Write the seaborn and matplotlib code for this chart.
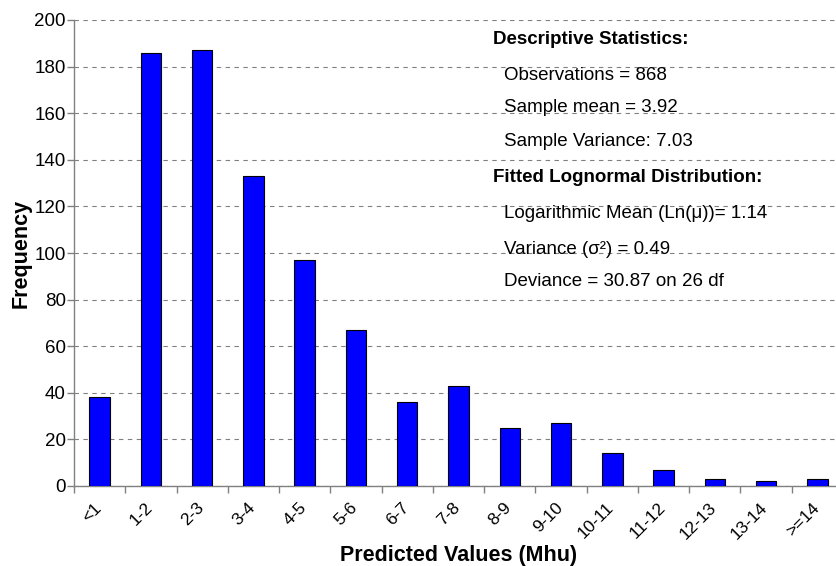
import pandas as pd
import matplotlib.pyplot as plt
import matplotlib.transforms as mtransforms
import seaborn as sns
from matplotlib.ticker import FixedLocator

# histogram of predicted values
categories = ["<1", "1-2", "2-3", "3-4", "4-5", "5-6", "6-7", "7-8",
              "8-9", "9-10", "10-11", "11-12", "12-13", "13-14", ">=14"]
frequency = [38, 186, 187, 133, 97, 67, 36, 43, 25, 27, 14, 7, 3, 2, 3]

stats_head = "Descriptive Statistics:"
stats_lines = ["Observations = 868", "Sample mean = 3.92", "Sample Variance: 7.03"]
fit_head = "Fitted Lognormal Distribution:"
fit_lines = ["Logarithmic Mean (Ln(\u03bc))= 1.14",
             "Variance (\u03c3\u00b2) = 0.49",
             "Deviance = 30.87 on 26 df"]

df = pd.DataFrame({"bin": categories, "freq": frequency})

sns.set_style("white")
plt.rcParams['font.family'] = ['Liberation Sans', 'DejaVu Sans']
plt.rcParams['text.color'] = 'black'
plt.rcParams['axes.labelcolor'] = 'black'
plt.rcParams['xtick.color'] = 'black'
plt.rcParams['ytick.color'] = 'black'

FS = 13.5

fig = plt.figure(figsize=(8.37, 5.66), dpi=100)
ax = fig.add_axes([74 / 837, 1 - 486 / 566, (843 - 74) / 837, (486 - 20) / 566])

sns.barplot(data=df, x="bin", y="freq", color="#0000ff", saturation=1,
            width=0.4, edgecolor="black", linewidth=0.8, ax=ax, zorder=3)

ax.set_xlim(-0.5, len(categories) - 0.5)
ax.set_ylim(0, 200)
ax.set_yticks(range(0, 201, 20))
ax.grid(axis="y", linestyle=(0, (4, 4)), color="#808080", linewidth=0.8, zorder=0)
ax.grid(axis="x", visible=False)

for side in ["top", "right"]:
    ax.spines[side].set_visible(False)
for side in ["left", "bottom"]:
    ax.spines[side].set_color("#808080")
    ax.spines[side].set_linewidth(1.0)

# ticks sit on the bin boundaries, labels at the bin centers
ax.xaxis.set_minor_locator(FixedLocator([i - 0.5 for i in range(len(categories) + 1)]))
ax.tick_params(axis="x", which="major", length=0, pad=8)
ax.tick_params(axis="x", which="minor", length=5, color="#808080", width=1, direction="out", bottom=True)
ax.tick_params(axis="y", length=5, color="#808080", width=1, direction="out", left=True, pad=1)
ax.set_xticks(range(len(categories)))
ax.set_xticklabels(categories, rotation=45, ha="right", rotation_mode="anchor", fontsize=12.5)
shift = mtransforms.ScaledTranslation(-6 / 100, -3 / 100, fig.dpi_scale_trans)
for lab in ax.get_xticklabels():
    lab.set_transform(lab.get_transform() + shift)
for lab in ax.get_yticklabels():
    lab.set_fontsize(FS)

ax.set_xlabel("Predicted Values (Mhu)", fontsize=15.5, fontweight="bold", labelpad=2)
ax.set_ylabel("Frequency", fontsize=15.5, fontweight="bold", labelpad=2)

# statistics box text
def put(px, py, s, bold=False):
    fig.text(px / 837, 1 - py / 566, s, fontsize=FS, va="center", ha="left",
             fontweight="bold" if bold else "normal")

put(493, 40, stats_head, bold=True)
for y, s in zip([75, 108, 142], stats_lines):
    put(504, y, s)
put(493, 178, fit_head, bold=True)
for y, s in zip([213, 249, 281], fit_lines):
    put(504, y, s)

fig.savefig("out.png", dpi=100)
